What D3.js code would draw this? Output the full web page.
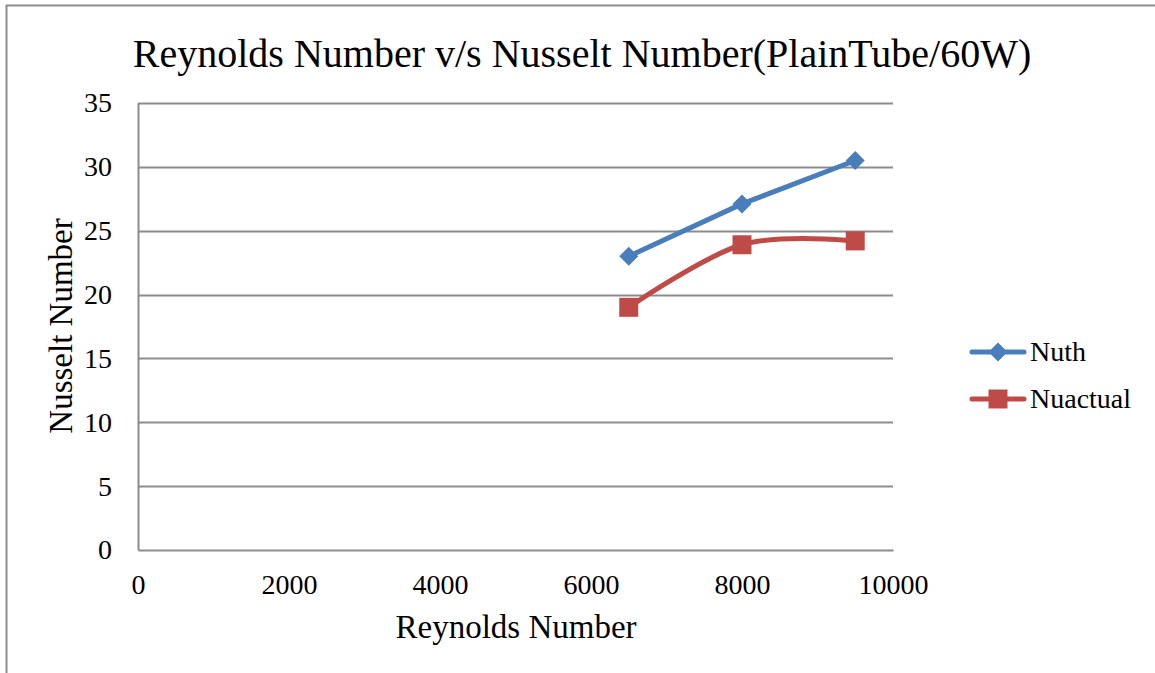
<!DOCTYPE html>
<html>
<head>
<meta charset="utf-8">
<script src="https://cdn.jsdelivr.net/npm/d3@7"></script>
<style>
  body { margin: 0; background: #fff; }
  svg text { font-family: "Liberation Serif", serif; fill: #000; }
</style>
</head>
<body>
<div id="chart"></div>
<script>
// data
var reynolds = [6500, 8000, 9500];
var nuth = [23.0, 27.1, 30.5];
var nuactual = [19.0, 23.9, 24.2];
var xticks = [0, 2000, 4000, 6000, 8000, 10000];
var yticks = [0, 5, 10, 15, 20, 25, 30, 35];
var seriesNames = ["Nuth", "Nuactual"];
var seriesColors = ["#4a7ebb", "#be4b48"];

var W = 1155, H = 673;
var margins = { left: 138, top: 103, width: 755, height: 447 };

var svg = d3.select("#chart").append("svg")
    .attr("width", W).attr("height", H);

// outer frame (only left & top edges show in the picture)
svg.append("rect")
    .attr("x", 6.5).attr("y", 5.5)
    .attr("width", W + 10).attr("height", H + 10)
    .attr("fill", "none").attr("stroke", "#8c8c8c").attr("stroke-width", 2);

var x = d3.scaleLinear().domain([0, 10000]).range([0, margins.width]);
var y = d3.scaleLinear().domain([0, 35]).range([margins.height, 0]);

var g = svg.append("g")
    .attr("transform", "translate(" + margins.left + "," + margins.top + ")");

// gridlines
g.selectAll(".grid").data(yticks.slice(1)).enter().append("line")
    .attr("x1", 0).attr("x2", margins.width)
    .attr("y1", function(d) { return Math.round(y(d)) + 0.5; })
    .attr("y2", function(d) { return Math.round(y(d)) + 0.5; })
    .attr("stroke", "#8c8c8c").attr("stroke-width", 2);

// y axis
var yAxis = d3.axisLeft(y).tickValues(yticks).tickSize(0).tickPadding(26);
var ya = g.append("g").call(yAxis);
ya.select(".domain").attr("stroke", "#8c8c8c").attr("stroke-width", 2);
ya.selectAll("text").style("font-size", "28px").style("font-family", "Liberation Serif");

// x axis
var xAxis = d3.axisBottom(x).tickValues(xticks).tickSize(0).tickPadding(24)
    .tickFormat(d3.format("d"));
var xa = g.append("g").attr("transform", "translate(0," + margins.height + ")").call(xAxis);
xa.select(".domain").attr("stroke", "#8c8c8c").attr("stroke-width", 2);
xa.selectAll("text").style("font-size", "28px").style("font-family", "Liberation Serif");

// lines
var pts = function(vals) { return reynolds.map(function(r, i) { return [r, vals[i]]; }); };
var lineStraight = d3.line().x(function(d) { return x(d[0]); }).y(function(d) { return y(d[1]); });
var lineSmooth = d3.line().curve(d3.curveCatmullRom.alpha(0))
    .x(function(d) { return x(d[0]); }).y(function(d) { return y(d[1]); });

g.append("path").datum(pts(nuth)).attr("d", lineStraight)
    .attr("fill", "none").attr("stroke", seriesColors[0]).attr("stroke-width", 5)
    .attr("stroke-linejoin", "round").attr("stroke-linecap", "round");
g.append("path").datum(pts(nuactual)).attr("d", lineSmooth)
    .attr("fill", "none").attr("stroke", seriesColors[1]).attr("stroke-width", 5)
    .attr("stroke-linecap", "round");

var diamond = d3.symbol().type(d3.symbolSquare).size(180);
g.selectAll(".dia").data(pts(nuth)).enter().append("path")
    .attr("d", diamond)
    .attr("transform", function(d) { return "translate(" + x(d[0]) + "," + y(d[1]) + ") rotate(45)"; })
    .attr("fill", seriesColors[0]);

var square = d3.symbol().type(d3.symbolSquare).size(360);
g.selectAll(".sq").data(pts(nuactual)).enter().append("path")
    .attr("d", square)
    .attr("transform", function(d) { return "translate(" + x(d[0]) + "," + y(d[1]) + ")"; })
    .attr("fill", seriesColors[1]);

// title
svg.append("text")
    .attr("x", 582).attr("y", 67)
    .attr("text-anchor", "middle")
    .style("font-size", "40px")
    .text("Reynolds Number v/s Nusselt Number(PlainTube/60W)");

// axis labels
svg.append("text")
    .attr("x", 516).attr("y", 638)
    .attr("text-anchor", "middle")
    .style("font-size", "33px")
    .text("Reynolds Number");

svg.append("text")
    .attr("transform", "translate(72,326) rotate(-90)")
    .attr("text-anchor", "middle")
    .style("font-size", "33px")
    .text("Nusselt Number");

// legend
var legend = svg.append("g");
seriesNames.forEach(function(name, i) {
    var ly = 352 + i * 47;
    legend.append("line").attr("x1", 972).attr("x2", 1024)
        .attr("y1", ly).attr("y2", ly)
        .attr("stroke", seriesColors[i]).attr("stroke-width", 5).attr("stroke-linecap", "round");
    legend.append("path")
        .attr("d", i === 0 ? diamond : square)
        .attr("transform", "translate(998," + ly + ")" + (i === 0 ? " rotate(45)" : ""))
        .attr("fill", seriesColors[i]);
    legend.append("text").attr("x", 1030).attr("y", ly + 9)
        .style("font-size", "28px").text(name);
});
</script>
</body>
</html>
